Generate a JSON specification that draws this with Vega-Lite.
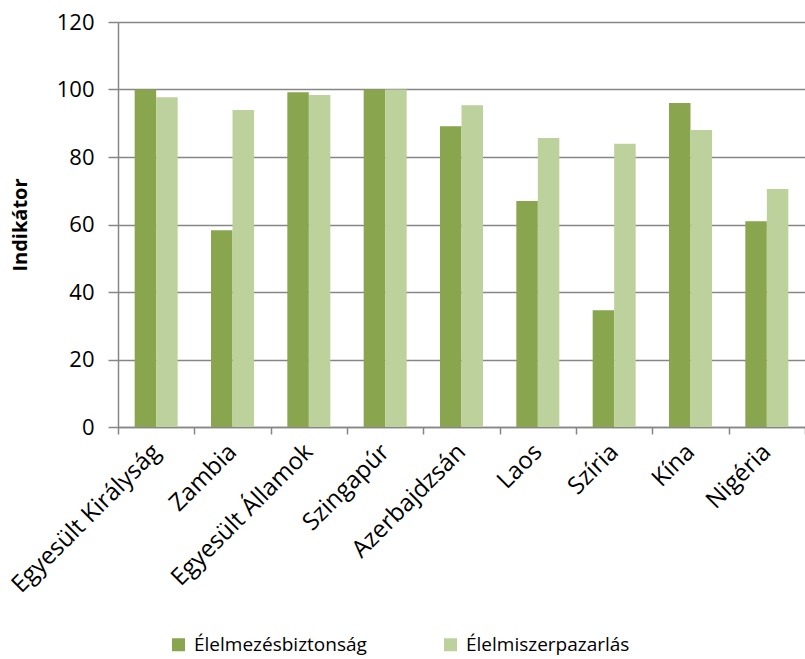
{
  "$schema": "https://vega.github.io/schema/vega-lite/v6.json",
  "width": 687,
  "height": 405,
  "autosize": {"type": "none"},
  "padding": {"left": 118, "top": 22, "right": 0, "bottom": 232},
  "background": "white",
  "config": {
    "view": {"stroke": null},
    "font": "Open Sans"
  },
  "data": {
    "values": [
      {"orszag": "Egyesült Királyság", "sorozat": "Élelmezésbiztonság", "ertek": 100},
      {"orszag": "Egyesült Királyság", "sorozat": "Élelmiszerpazarlás", "ertek": 97.7},
      {"orszag": "Zambia", "sorozat": "Élelmezésbiztonság", "ertek": 58.3},
      {"orszag": "Zambia", "sorozat": "Élelmiszerpazarlás", "ertek": 93.9},
      {"orszag": "Egyesült Államok", "sorozat": "Élelmezésbiztonság", "ertek": 99.2},
      {"orszag": "Egyesült Államok", "sorozat": "Élelmiszerpazarlás", "ertek": 98.4},
      {"orszag": "Szingapúr", "sorozat": "Élelmezésbiztonság", "ertek": 100},
      {"orszag": "Szingapúr", "sorozat": "Élelmiszerpazarlás", "ertek": 100},
      {"orszag": "Azerbajdzsán", "sorozat": "Élelmezésbiztonság", "ertek": 89.1},
      {"orszag": "Azerbajdzsán", "sorozat": "Élelmiszerpazarlás", "ertek": 95.3},
      {"orszag": "Laos", "sorozat": "Élelmezésbiztonság", "ertek": 67},
      {"orszag": "Laos", "sorozat": "Élelmiszerpazarlás", "ertek": 85.6},
      {"orszag": "Szíria", "sorozat": "Élelmezésbiztonság", "ertek": 34.6},
      {"orszag": "Szíria", "sorozat": "Élelmiszerpazarlás", "ertek": 83.9},
      {"orszag": "Kína", "sorozat": "Élelmezésbiztonság", "ertek": 96},
      {"orszag": "Kína", "sorozat": "Élelmiszerpazarlás", "ertek": 88},
      {"orszag": "Nigéria", "sorozat": "Élelmezésbiztonság", "ertek": 61},
      {"orszag": "Nigéria", "sorozat": "Élelmiszerpazarlás", "ertek": 70.5}
    ]
  },
  "mark": {"type": "bar"},
  "encoding": {
    "x": {
      "field": "orszag",
      "type": "nominal",
      "sort": null,
      "scale": {"paddingInner": 0, "paddingOuter": 0},
      "axis": {
        "title": null,
        "labelAngle": -45,
        "labelAlign": "right",
        "labelBaseline": "middle",
        "labelFontSize": 24,
        "labelColor": "#000000",
        "labelPadding": 14,
        "labelLimit": 400,
        "tickBand": "extent",
        "tickSize": 7,
        "tickColor": "#868686",
        "domainColor": "#868686",
        "tickWidth": 1.5,
        "domainWidth": 1.5,
        "grid": false
      }
    },
    "xOffset": {
      "field": "sorozat",
      "type": "nominal",
      "sort": null,
      "scale": {"paddingInner": 0, "paddingOuter": 0.775}
    },
    "y": {
      "field": "ertek",
      "type": "quantitative",
      "scale": {"domain": [0, 120], "nice": false},
      "axis": {
        "title": "Indikátor",
        "titleFontSize": 20,
        "titleFontWeight": "bold",
        "titleColor": "#000000",
        "titlePadding": 26,
        "values": [0, 20, 40, 60, 80, 100, 120],
        "labelFontSize": 22,
        "labelColor": "#000000",
        "labelPadding": 14,
        "tickSize": 10,
        "tickColor": "#868686",
        "domainColor": "#868686",
        "tickWidth": 1.5,
        "domainWidth": 1.5,
        "grid": true,
        "gridColor": "#868686",
        "gridWidth": 1.5
      }
    },
    "color": {
      "field": "sorozat",
      "type": "nominal",
      "sort": null,
      "scale": {"range": ["#89A54E", "#BCD19B"]},
      "legend": {
        "title": null,
        "orient": "none",
        "direction": "horizontal",
        "legendX": 51,
        "legendY": 613,
        "symbolType": "square",
        "symbolSize": 169,
        "symbolStrokeWidth": 0,
        "labelFontSize": 19,
        "labelColor": "#000000",
        "labelOffset": 6,
        "labelLimit": 400,
        "columnPadding": 74
      }
    }
  }
}
